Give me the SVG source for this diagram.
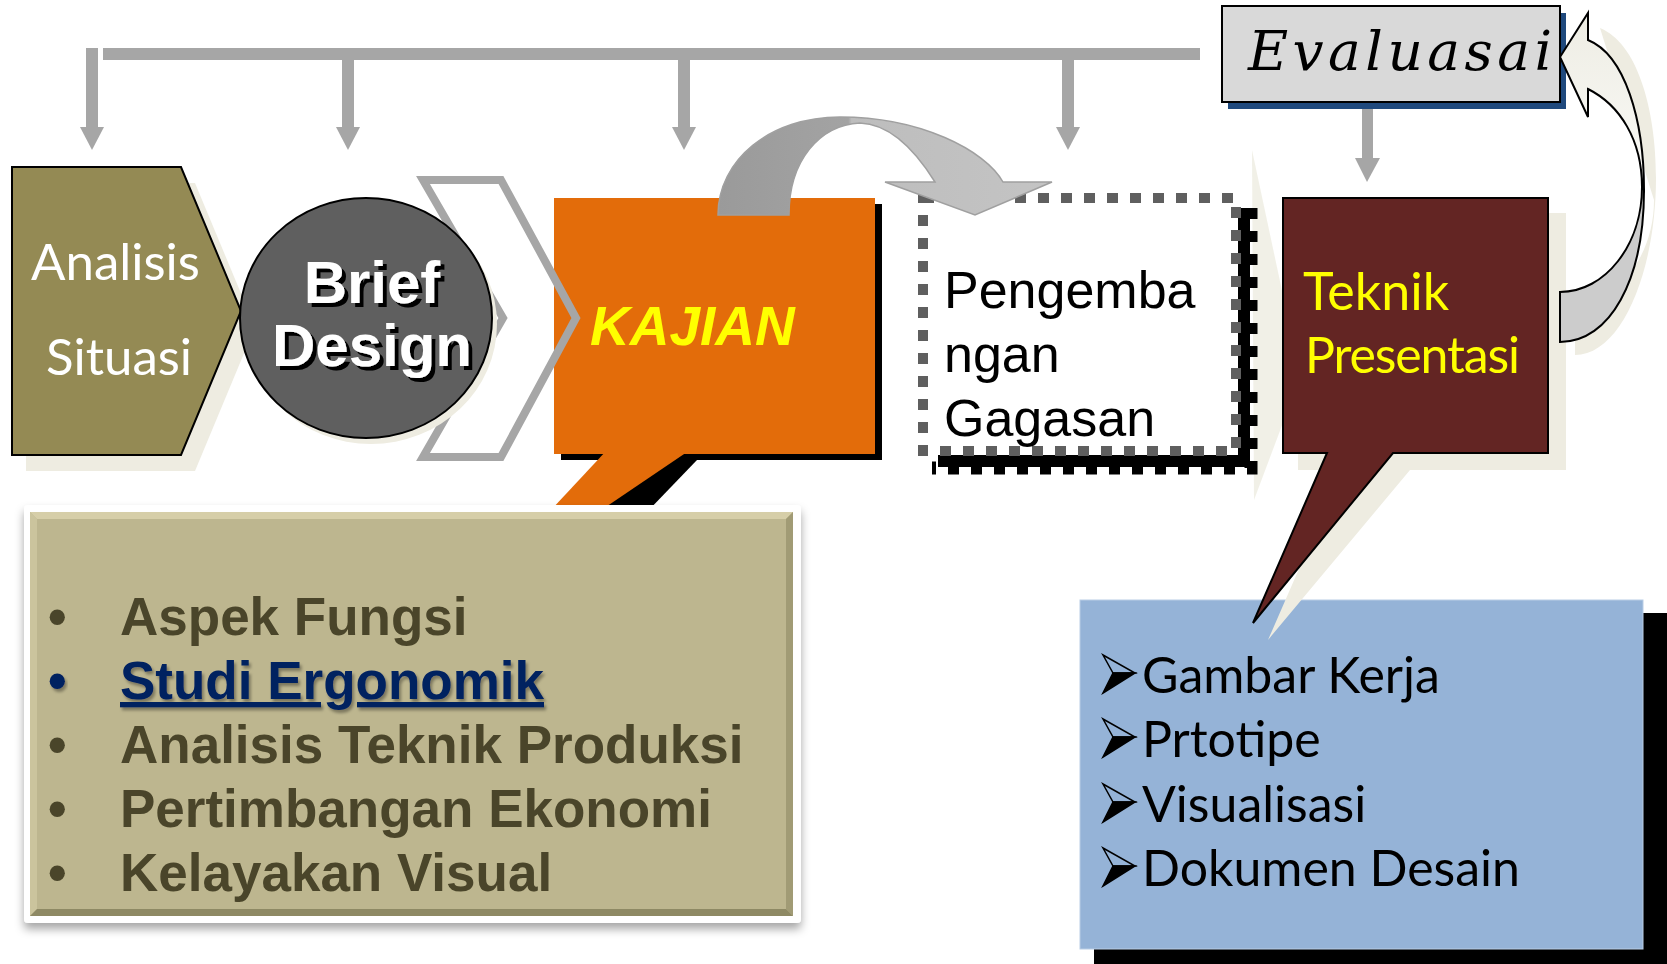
<svg xmlns="http://www.w3.org/2000/svg" width="1667" height="964" viewBox="0 0 1667 964">
<defs>
<style>
.gray{fill:#A6A6A6}
.beige{fill:#EEECE1}
.hand{font-family:Lato,"Open Sans",sans-serif}
.arial{font-family:"Liberation Sans",Arial,sans-serif}
.lst{font-family:"Liberation Sans",Arial,sans-serif;font-weight:bold;font-size:53px;fill:#4A452A}
.navy{fill:#002060}
.blst{font-family:Lato,"Open Sans",sans-serif;font-size:50px;fill:#000}
</style>
<linearGradient id="curveGrad" gradientUnits="userSpaceOnUse" x1="718" y1="0" x2="1052" y2="0">
<stop offset="0" stop-color="#9A9A9A"/>
<stop offset="0.39" stop-color="#A3A3A3"/>
<stop offset="0.40" stop-color="#BDBDBD"/>
<stop offset="1" stop-color="#C4C4C4"/>
</linearGradient>
<linearGradient id="upGrad" x1="0" y1="0" x2="0" y2="1">
<stop offset="0" stop-color="#EEEDE4"/>
<stop offset="1" stop-color="#FAFAF7"/>
</linearGradient>
<filter id="dropShadow" x="-5%" y="-5%" width="110%" height="115%">
<feDropShadow dx="0" dy="6" stdDeviation="5" flood-color="#000" flood-opacity="0.35"/>
</filter>
<filter id="txtShadow" x="-5%" y="-20%" width="110%" height="140%">
<feDropShadow dx="2" dy="3" stdDeviation="1.5" flood-color="#000" flood-opacity="0.35"/>
</filter>
<filter id="hardShadow" x="-5%" y="-10%" width="115%" height="130%">
<feDropShadow dx="4" dy="4" stdDeviation="0" flood-color="#000" flood-opacity="1"/>
</filter>
<g id="arrowBullet">
<polygon points="0,0 32,18 10,18" fill="none" stroke="#000" stroke-width="1.5" stroke-linejoin="miter"/>
<polygon points="0,38 32,18 10,18" fill="#000" stroke="#000" stroke-width="1.5" stroke-linejoin="miter"/>
</g>
</defs>

<rect width="1667" height="964" fill="#fff"/>

<!-- faint wedge shadow -->
<polygon class="beige" points="1252,150 1284,300 1284,420 1254,500" opacity="0.8"/>

<g id="node-analisis">
<polygon class="beige" points="26,183 195,183 255,327 195,471 26,471"/>
<polygon points="12,167 181,167 241,311 181,455 12,455" fill="#948A54" stroke="#000" stroke-width="2"/>
<text class="hand" x="31" y="280" font-size="51" fill="#fff">Analisis</text>
<text class="hand" x="46" y="375" font-size="51" fill="#fff">Situasi</text>
</g>

<g id="node-kajian">
<polygon points="610,454 697,454 697,460 620,540 520,540" fill="#000"/>
<rect x="561" y="204" width="321" height="256" fill="#000"/>
<rect x="554" y="198" width="321" height="256" fill="#E36C0A"/>
<polygon points="607,450 690,450 557,540 523,540" fill="#E36C0A"/>
<text class="arial" x="590" y="345" font-size="55" font-weight="bold" font-style="italic" fill="#FFFF00">KAJIAN</text>
</g>

<g id="node-chevron">
<polygon points="423,180 501,180 576,318 501,457 423,457 503,318" fill="none" stroke="#A6A6A6" stroke-width="8" stroke-linejoin="miter"/>
</g>

<g id="node-brief">
<ellipse class="beige" cx="371" cy="324" rx="126" ry="120"/>
<ellipse cx="366" cy="318" rx="126" ry="120" fill="#5F5F5F" stroke="#000" stroke-width="2"/>
<g class="arial" font-size="60" font-weight="bold" text-anchor="middle" fill="#fff" filter="url(#hardShadow)">
<text x="372" y="303">Brief</text>
<text x="372" y="366">Design</text>
</g>
</g>

<g id="node-pengembangan">
<path d="M1244,208 V461 H938" fill="none" stroke="#000" stroke-width="12"/>
<path d="M1251,208 V468 H932" fill="none" stroke="#000" stroke-width="13" stroke-dasharray="11,12"/>
<rect x="923" y="198" width="313" height="253" fill="#fff"/>
<rect x="923" y="198" width="313" height="253" fill="none" stroke="#5F5F5F" stroke-width="10" stroke-dasharray="11,12"/>
<g class="arial" font-size="52" fill="#000">
<text x="944" y="308">Pengemba</text>
<text x="944" y="372">ngan</text>
<text x="944" y="436">Gagasan</text>
</g>
</g>

<g id="node-list-teknik">
<rect x="1094" y="613" width="580" height="360" fill="#000"/>
<rect x="1080" y="600" width="563" height="349" fill="#95B3D7" stroke="#B9CDE5" stroke-width="1"/>
<use href="#arrowBullet" x="1103" y="655"/>
<use href="#arrowBullet" x="1103" y="719"/>
<use href="#arrowBullet" x="1103" y="784"/>
<use href="#arrowBullet" x="1103" y="848"/>
<text class="blst" x="1142" y="693">Gambar Kerja</text>
<text class="blst" x="1142" y="757">Prtotipe</text>
<text class="blst" x="1142" y="822">Visualisasi</text>
<text class="blst" x="1142" y="886">Dokumen Desain</text>
</g>

<g id="node-teknik">
<path class="beige" d="M1298,213 H1566 V470 H1410 L1268,640 L1342,470 H1298 Z"/>
<path d="M1283,198 H1548 V453 H1393 L1253,623 L1327,453 H1283 Z" fill="#632523" stroke="#000" stroke-width="2" stroke-linejoin="miter"/>
<text class="hand" x="1303" y="310" font-size="52" fill="#FFFF00">Teknik</text>
<text class="hand" x="1305" y="373" font-size="50" fill="#FFFF00" textLength="215" lengthAdjust="spacing">Presentasi</text>
</g>

<g id="node-list-kajian">
<rect x="24" y="505" width="777" height="418" rx="4" fill="#fff" filter="url(#dropShadow)"/>
<rect x="30" y="512" width="763" height="404" fill="#BDB68F"/>
<polygon points="30,512 793,512 786,519 37,519" fill="#D6CEA8"/>
<polygon points="30,512 37,519 37,909 30,916" fill="#CBC49D"/>
<polygon points="793,512 793,916 786,909 786,519" fill="#A19B75"/>
<polygon points="30,916 793,916 786,909 37,909" fill="#8E8964"/>
<text class="lst" x="48" y="635">•</text>
<text class="lst navy" x="48" y="699" filter="url(#txtShadow)">•</text>
<text class="lst" x="48" y="763">•</text>
<text class="lst" x="48" y="827">•</text>
<text class="lst" x="48" y="891">•</text>
<text class="lst" x="120" y="635">Aspek Fungsi</text>
<text class="lst navy" x="120" y="699" text-decoration="underline" filter="url(#txtShadow)">Studi Ergonomik</text>
<text class="lst" x="120" y="763">Analisis Teknik Produksi</text>
<text class="lst" x="120" y="827">Pertimbangan Ekonomi</text>
<text class="lst" x="120" y="891">Kelayakan Visual</text>
</g>

<g id="connectors">
<rect class="gray" x="103" y="48" width="1097" height="12"/>
<rect class="gray" x="86" y="48" width="12" height="80"/>
<polygon class="gray" points="80,127 104,127 92,150"/>
<rect class="gray" x="342" y="48" width="12" height="80"/>
<polygon class="gray" points="336,127 360,127 348,150"/>
<rect class="gray" x="678" y="48" width="12" height="80"/>
<polygon class="gray" points="672,127 696,127 684,150"/>
<rect class="gray" x="1062" y="48" width="12" height="80"/>
<polygon class="gray" points="1056,127 1080,127 1068,150"/>
<rect class="gray" x="1362" y="98" width="11" height="61"/>
<polygon class="gray" points="1355,158 1380,158 1367,182"/>
<path d="M718,215 C718,160 770,117 840,117 C920,117 985,150 1003,182 L1052,182 L975,215 L885,182 L935,182 C915,150 890,124 860,123 C820,125 789,160 789,215 Z" fill="url(#curveGrad)" stroke="#A0A0A0" stroke-width="1.5"/>
</g>

<g id="node-evaluasai">
<rect x="1228" y="13" width="338" height="96" fill="#1F497D"/>
<rect x="1222" y="6" width="338" height="96" fill="#D9D9D9" stroke="#000" stroke-width="2"/>
<text x="1248" y="70" font-family="'DejaVu Serif',serif" font-style="italic" font-size="55" fill="#000" textLength="304" lengthAdjust="spacing">Evaluasai</text>
</g>

<g id="connector-feedback">
<path class="beige" d="M1600,28 C1637,43 1656,108 1656,178 C1656,270 1622,355 1575,355 L1575,305 C1620,300 1654,255 1654,200 Z"/>
<path d="M1588,40 C1625,55 1644,120 1644,190 L1642,187 C1642,140 1620,105 1588,89 L1588,117 L1560,57 L1588,13 Z" fill="url(#upGrad)" stroke="#000" stroke-width="2" stroke-linejoin="miter"/>
<path d="M1642,187 C1642,245 1605,292 1560,292 L1560,342 C1610,342 1644,280 1644,190 Z" fill="#CCCCCC" stroke="#000" stroke-width="2"/>
</g>
</svg>
